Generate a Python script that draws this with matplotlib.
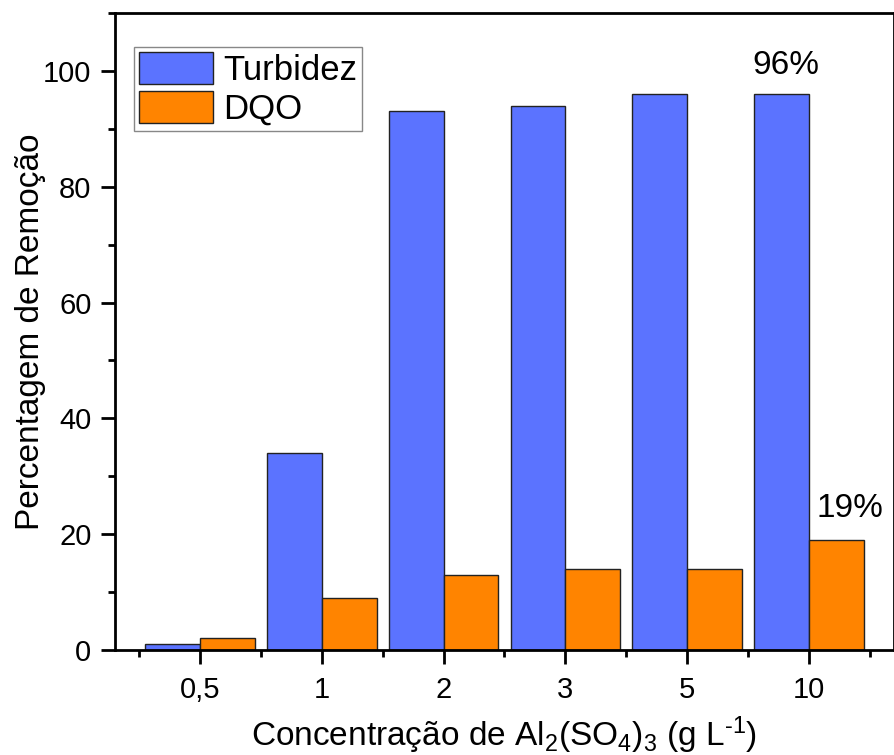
import numpy as np
import matplotlib
matplotlib.use("Agg")
import matplotlib.pyplot as plt
from matplotlib.ticker import MultipleLocator, FixedLocator

plt.rcParams['font.family'] = ['Liberation Sans', 'DejaVu Sans']
plt.rcParams['mathtext.fontset'] = 'custom'
plt.rcParams['mathtext.rm'] = 'Liberation Sans'
plt.rcParams['mathtext.it'] = 'Liberation Sans:italic'
plt.rcParams['mathtext.default'] = 'rm'

# data
categories = ['0,5', '1', '2', '3', '5', '10']
turbidez = [1, 34, 93, 94, 96, 96]
dqo = [2, 9, 13, 14, 14, 19]

blue = '#5b73ff'
orange = '#ff8400'

fig = plt.figure(figsize=(8.95, 7.55), dpi=100)
ax = fig.add_axes([115 / 895, 105 / 755, 779 / 895, 637 / 755])

x = np.arange(len(categories))
w = 0.45
ax.bar(x - w / 2, turbidez, w, color=blue, edgecolor='#222222', linewidth=1.0, label='Turbidez')
ax.bar(x + w / 2, dqo, w, color=orange, edgecolor='#222222', linewidth=1.0, label='DQO')

ax.set_xlim(-0.7, 5.7)
ax.set_ylim(0, 110)
ax.set_xticks(x)
ax.set_xticklabels(categories)
ax.xaxis.set_minor_locator(FixedLocator(list(np.arange(-0.5, 6, 1.0))))
ax.yaxis.set_major_locator(MultipleLocator(20))
ax.yaxis.set_minor_locator(MultipleLocator(10))

for side in ['left', 'bottom', 'top', 'right']:
    ax.spines[side].set_linewidth(2)
ax.tick_params(which='major', direction='out', length=10, width=2, labelsize=21, pad=7)
ax.tick_params(which='minor', direction='out', length=5, width=2)
ax.tick_params(axis='x', pad=9)

ax.set_ylabel('Percentagem de Remoção', fontsize=24, labelpad=-2)
ax.set_xlabel(r'Concentração de Al$_2$(SO$_4$)$_3$ (g L$^{\text{-1}}$)', fontsize=24, labelpad=7)

ax.text(4.81, 100.9, '96%', fontsize=24, ha='center', va='center')
ax.text(5.34, 24.5, '19%', fontsize=24, ha='center', va='center')

leg = ax.legend(loc='upper left', bbox_to_anchor=(19 / 779, 1 - 34 / 637), borderaxespad=0,
                fontsize=25, handlelength=2.13, handleheight=1.05, handletextpad=0.3,
                labelspacing=0.12, borderpad=0.14, fancybox=False, framealpha=1)
leg.get_frame().set_edgecolor('#888888')
leg.get_frame().set_linewidth(1)

fig.savefig('out.png', dpi=100)
